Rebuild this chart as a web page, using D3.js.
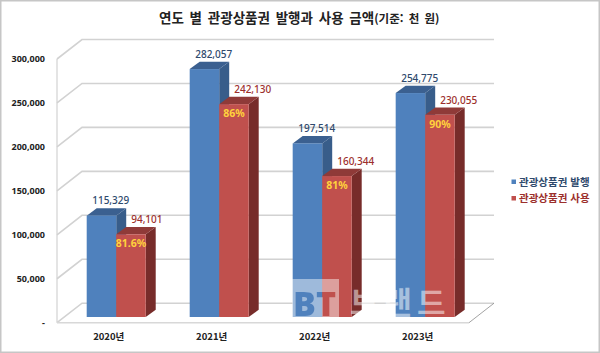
<!DOCTYPE html>
<html lang="ko">
<head>
<meta charset="utf-8">
<title>연도 별 관광상품권 발행과 사용 금액</title>
<script src="https://d3js.org/d3.v7.min.js"></script>
<style>
html, body { margin: 0; padding: 0; background: #fff; }
svg { display: block; font-family: "Noto Sans CJK KR", sans-serif; }
</style>
</head>
<body>
<div id="chart"></div>
<script>
var years = ["2020년", "2021년", "2022년", "2023년"];
var seriesNames = ["관광상품권 발행", "관광상품권 사용"];
var issued = [115329, 282057, 197514, 254775];
var used = [94101, 242130, 160344, 230055];
var rates = ["81.6%", "86%", "81%", "90%"];
var yTicks = [0, 50000, 100000, 150000, 200000, 250000, 300000];

var w = 600, h = 353;
var front = ["#4f81bd", "#c0504d"];
var side = ["#385d8a", "#772c2a"];
var topFace = ["#3b6090", "#8f3a38"];
var labelCol = ["#2f4a6d", "#9c2f2c"];

// wall depth and bar depth
var wallDx = 25, wallDy = -19.5;
var barDx = 10, barDy = -7.3;

var svg = d3.select("#chart").append("svg").attr("width", w).attr("height", h);
svg.append("rect").attr("x", 0.75).attr("y", 0.75).attr("width", w - 1.5).attr("height", h - 1.5)
	.attr("fill", "#fff").attr("stroke", "#c6c6c6").attr("stroke-width", 1.5);

var x0 = d3.scaleBand().domain(years).range([86.7, 454.7]).paddingInner(0.427).paddingOuter(0);
var x1 = d3.scaleBand().domain([0, 1]).range([0, x0.bandwidth()]);
var yGrid = d3.scaleLinear().domain([0, 300000]).range([322.7, 59]);
var yBar = d3.scaleLinear().domain([0, 300000]).range([317, 53.3]);

// wall grid lines
var grid = svg.append("g").attr("fill", "none").attr("stroke", "#d2d2d2");
grid.selectAll("path").data(yTicks).enter().append("path")
	.attr("stroke-width", 1.6)
	.attr("d", function(d) {
		var y = yGrid(d);
		return "M57," + y + "L" + (57 + wallDx) + "," + (y + wallDy) + "H" + (469 + wallDx);
	});
svg.append("line").attr("x1", 57).attr("x2", 57).attr("y1", yGrid(300000)).attr("y2", yGrid(0))
	.attr("stroke", "#d2d2d2").attr("stroke-width", 1.2);
svg.append("line").attr("x1", 57).attr("x2", 469).attr("y1", yGrid(0)).attr("y2", yGrid(0))
	.attr("stroke", "#d8d8d8").attr("stroke-width", 1.4);
svg.append("line").attr("x1", 469).attr("x2", 469 + wallDx).attr("y1", yGrid(0)).attr("y2", yGrid(0) + wallDy)
	.attr("stroke", "#8c8c8c").attr("stroke-width", 0.8);

// y axis
var yAxis = d3.axisLeft(yGrid).tickValues(yTicks).tickSize(0).tickPadding(0)
	.tickFormat(function(d) { return d === 0 ? "-" : d3.format(",")(d); });
var yG = svg.append("g").attr("transform", "translate(45,0)").call(yAxis);
yG.select(".domain").remove();
yG.selectAll("text").attr("font-size", 9).attr("font-weight", 700).attr("fill", "#222")
	.attr("font-family", "'Noto Sans', sans-serif");

// x axis
var xAxis = d3.axisBottom(x0).tickSize(0).tickPadding(0);
var xG = svg.append("g").attr("transform", "translate(-7.5,333)").call(xAxis);
xG.select(".domain").remove();
xG.selectAll("text").attr("font-size", 9.5).attr("font-weight", 700).attr("fill", "#222")
	.attr("font-family", "'Noto Sans CJK KR', sans-serif");

// bars, drawn back to front, used over issued
var groups = svg.selectAll("g.year").data(years).enter().append("g").attr("class", "year")
	.attr("transform", function(d) { return "translate(" + x0(d) + ",0)"; });

[issued, used].forEach(function(values, s) {
	var bw = x1.bandwidth();
	var g = groups.append("g");
	// side face
	g.append("path").attr("fill", side[s]).attr("d", function(d, i) {
		var t = yBar(values[i]), b = yBar(0), r = x1(s) + bw;
		return "M" + r + "," + t + "l" + barDx + "," + barDy + "V" + (b + barDy) + "L" + r + "," + b + "Z";
	});
	// top face
	g.append("path").attr("fill", topFace[s]).attr("d", function(d, i) {
		var t = yBar(values[i]), l = x1(s);
		return "M" + l + "," + t + "l" + barDx + "," + barDy + "h" + bw + "l" + (-barDx) + "," + (-barDy) + "Z";
	});
	// front face
	g.append("rect").attr("fill", front[s]).attr("x", x1(s)).attr("width", bw)
		.attr("y", function(d, i) { return yBar(values[i]); })
		.attr("height", function(d, i) { return yBar(0) - yBar(values[i]); });
});

// value labels on top of every bar
[issued, used].forEach(function(values, s) {
	groups.append("text").attr("font-size", 10).attr("font-weight", 500).attr("fill", labelCol[s])
		.attr("font-family", "'Noto Sans', sans-serif")
		.attr("x", x1(s) + (s === 0 ? 5.5 : 15))
		.attr("y", function(d, i) { return yBar(values[i]) + (s === 0 ? -11.5 : -11); })
		.text(function(d, i) { return d3.format(",")(values[i]); });
});

// usage rate inside red bars
groups.append("text").attr("text-anchor", "middle").attr("font-size", 10.5).attr("font-weight", 700)
	.attr("fill", "#ffd23c").attr("font-family", "'Noto Sans', sans-serif")
	.attr("x", x1(1) + x1.bandwidth() / 2)
	.attr("y", function(d, i) { return yBar(used[i]) + 13; })
	.text(function(d, i) { return rates[i]; });

// title
var title = svg.append("text").attr("x", 159).attr("y", 23)
	.attr("fill", "#222").attr("font-weight", 700).attr("font-size", 13.5).attr("word-spacing", 2);
title.append("tspan").text("연도 별 관광상품권 발행과 사용 금액");
title.append("tspan").attr("font-size", 11.5).text("(기준: 천 원)");

// legend
var legend = svg.selectAll("g.legend").data(seriesNames).enter().append("g").attr("class", "legend")
	.attr("transform", function(d, i) { return "translate(511.5," + (182.5 + i * 16.5) + ")"; });
legend.append("rect").attr("x", 0).attr("y", -3).attr("width", 4.5).attr("height", 4.5)
	.attr("fill", function(d, i) { return front[i]; });
legend.append("text").attr("x", 7.5).attr("y", 3).attr("font-size", 10.5).attr("font-weight", 700)
	.attr("fill", function(d, i) { return labelCol[i]; }).text(function(d) { return d; });

// watermark over the plot
var mask = svg.append("mask").attr("id", "wm");
mask.append("rect").attr("x", 292).attr("y", 279).attr("width", 47).attr("height", 38).attr("fill", "#fff");
mask.append("text").attr("x", 293).attr("y", 316).attr("font-size", 34).attr("font-weight", 900)
	.attr("font-family", "'Noto Sans', sans-serif").attr("fill", "#000").text("BT");
svg.append("rect").attr("x", 292).attr("y", 279).attr("width", 47).attr("height", 38)
	.attr("fill", "#fff").attr("fill-opacity", 0.45).attr("mask", "url(#wm)");
svg.append("text").attr("x", 350).attr("y", 314).attr("font-size", 31).attr("font-weight", 700)
	.attr("letter-spacing", 5).attr("fill", "#fff").attr("fill-opacity", 0.5).text("브랜드");
</script>
</body>
</html>
